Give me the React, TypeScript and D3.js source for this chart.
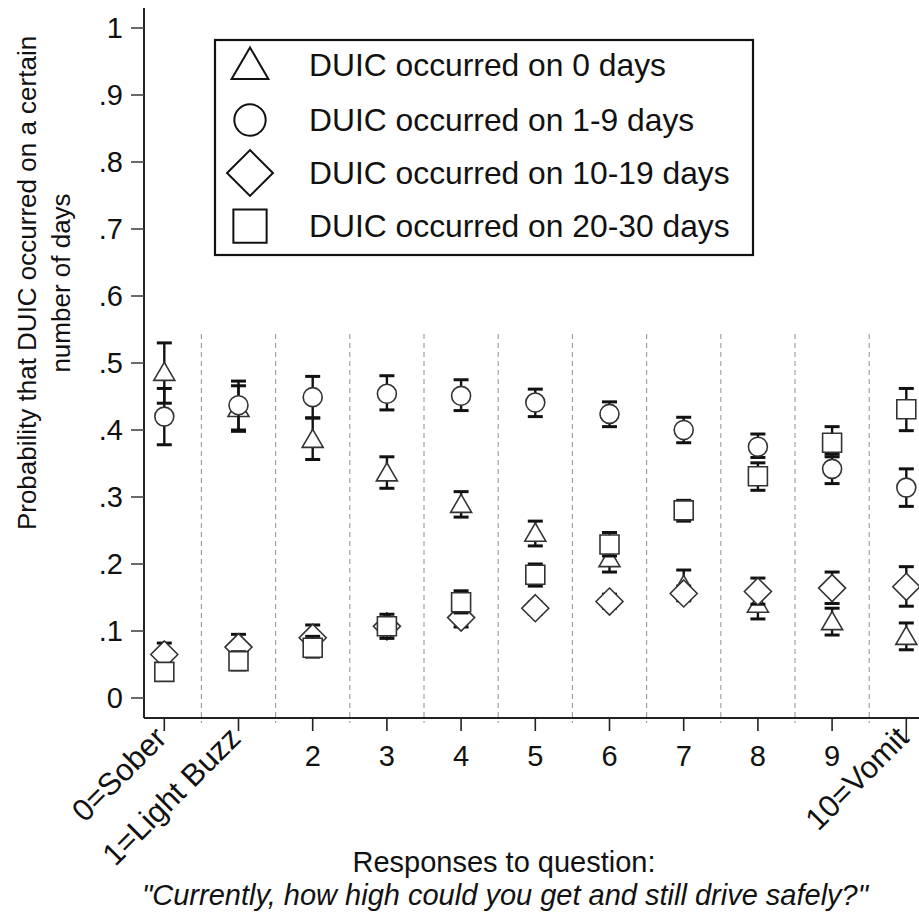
import * as d3 from "d3";

const categories = ["0=Sober", "1=Light Buzz", "2", "3", "4", "5", "6", "7", "8", "9", "10=Vomit"];
const yTicks = [0, 0.1, 0.2, 0.3, 0.4, 0.5, 0.6, 0.7, 0.8, 0.9, 1];
const yTickLabels = ["0", ".1", ".2", ".3", ".4", ".5", ".6", ".7", ".8", ".9", "1"];

// DUIC on 0 days (triangle)
const days0 = [0.486, 0.432, 0.386, 0.336, 0.289, 0.246, 0.208, 0.168, 0.140, 0.114, 0.092];
const days0Lo = [0.440, 0.400, 0.356, 0.313, 0.270, 0.227, 0.188, 0.147, 0.118, 0.094, 0.072];
const days0Hi = [0.530, 0.466, 0.418, 0.360, 0.308, 0.264, 0.228, 0.191, 0.160, 0.134, 0.112];
// 1-9 days (circle)
const days1 = [0.420, 0.437, 0.449, 0.454, 0.451, 0.441, 0.424, 0.400, 0.375, 0.342, 0.314];
const days1Lo = [0.378, 0.398, 0.418, 0.430, 0.429, 0.420, 0.405, 0.381, 0.359, 0.320, 0.286];
const days1Hi = [0.462, 0.473, 0.480, 0.481, 0.475, 0.461, 0.442, 0.419, 0.394, 0.364, 0.342];
// 10-19 days (diamond)
const days10 = [0.065, 0.076, 0.090, 0.107, 0.120, 0.134, 0.144, 0.156, 0.159, 0.164, 0.166];
const days10Lo = [0.050, 0.058, 0.072, 0.094, 0.106, 0.125, 0.134, 0.145, 0.140, 0.141, 0.137];
const days10Hi = [0.082, 0.095, 0.109, 0.120, 0.135, 0.143, 0.155, 0.167, 0.179, 0.188, 0.196];
// 20-30 days (square)
const days20 = [0.039, 0.055, 0.075, 0.107, 0.143, 0.184, 0.229, 0.280, 0.331, 0.381, 0.431];
const days20Lo = [0.028, 0.042, 0.061, 0.089, 0.127, 0.167, 0.212, 0.264, 0.310, 0.360, 0.399];
const days20Hi = [0.050, 0.069, 0.092, 0.125, 0.160, 0.200, 0.247, 0.295, 0.351, 0.405, 0.462];

const legendLabels = [
  "DUIC occurred on 0 days",
  "DUIC occurred on 1-9 days",
  "DUIC occurred on 10-19 days",
  "DUIC occurred on 20-30 days",
];

const series = [
  { shape: "triangle", est: days0, lo: days0Lo, hi: days0Hi },
  { shape: "circle", est: days1, lo: days1Lo, hi: days1Hi },
  { shape: "diamond", est: days10, lo: days10Lo, hi: days10Hi },
  { shape: "square", est: days20, lo: days20Lo, hi: days20Hi },
];

const W = 919;
const H = 917;
const FONT = "'Liberation Sans', Arial, Helvetica, sans-serif";

const x = d3.scaleLinear().domain([0, 10]).range([164.3, 906.3]);
const y = d3.scaleLinear().domain([0, 1]).range([698, 28]);

const axisX = 144;
const axisY = 718;

// marker outline; s = scale factor
function shapePath(shape: string, cx: number, cy: number, s: number) {
  const p = d3.path();
  if (shape === "triangle") {
    const hw = 10.5 * s, top = 10 * s, bot = 8 * s;
    p.moveTo(cx, cy - top);
    p.lineTo(cx + hw, cy + bot);
    p.lineTo(cx - hw, cy + bot);
    p.closePath();
  } else if (shape === "circle") {
    p.arc(cx, cy, 9.5 * s, 0, Math.PI * 2);
  } else if (shape === "diamond") {
    const r = 13.5 * s;
    p.moveTo(cx, cy - r);
    p.lineTo(cx + r, cy);
    p.lineTo(cx, cy + r);
    p.lineTo(cx - r, cy);
    p.closePath();
  } else {
    const h = 9.5 * s;
    p.rect(cx - h, cy - h, 2 * h, 2 * h);
  }
  return p.toString();
}

export default function App() {
  const bounds = d3.range(categories.length - 1).map(i => x(i + 0.5));

  return (
    <svg width={W} height={H} style={{ position: "absolute", left: 0, top: 0, background: "#fff" }}
      fontFamily={FONT}>
      <rect width={W} height={H} fill="#fff" />

      {/* dashed separators */}
      {bounds.map((bx, i) => (
        <line key={"sep" + i} x1={bx} x2={bx} y1={334} y2={723}
          stroke="#9a9a9a" strokeWidth={1.1} strokeDasharray="5,4" />
      ))}

      {/* axes */}
      <line x1={axisX} x2={axisX} y1={8} y2={axisY} stroke="#222" strokeWidth={2} />
      <line x1={axisX} x2={W} y1={axisY} y2={axisY} stroke="#222" strokeWidth={2} />

      {yTicks.map((t, i) => (
        <g key={"yt" + i}>
          <line x1={131} x2={axisX} y1={y(t)} y2={y(t)} stroke="#444" strokeWidth={1.6} />
          <text x={123} y={y(t)} dy="0.36em" textAnchor="end" fontSize={29} fill="#111">
            {yTickLabels[i]}
          </text>
        </g>
      ))}

      {categories.map((c, i) => {
        const tx = x(i);
        const rotated = c.length > 2;
        return (
          <g key={"xt" + i}>
            <line x1={tx} x2={tx} y1={axisY} y2={axisY + (i === 10 ? 25 : 13)} stroke="#222" strokeWidth={1.6} />
            {rotated ? (
              <text transform={`translate(${tx + 4},${axisY + 22}) rotate(-45)`} textAnchor="end"
                fontSize={31} fill="#111">{c}</text>
            ) : (
              <text x={tx} y={766} textAnchor="middle" fontSize={29} fill="#111">{c}</text>
            )}
          </g>
        );
      })}

      {/* y title */}
      <g transform="translate(36,283) rotate(-90)">
        <text textAnchor="middle" fontSize={26} fill="#111">
          Probability that DUIC occurred on a certain
        </text>
      </g>
      <g transform="translate(70,283) rotate(-90)">
        <text textAnchor="middle" fontSize={26} fill="#111">number of days</text>
      </g>

      {/* x title */}
      <text x={504} y={872} textAnchor="middle" fontSize={29} fill="#111">Responses to question:</text>
      <text x={505} y={905} textAnchor="middle" fontSize={29} fontStyle="italic" fill="#111">
        "Currently, how high could you get and still drive safely?"
      </text>

      {/* series */}
      {series.map((s, si) => (
        <g key={"s" + si}>
          {s.est.map((v, i) => {
            const cx = x(i);
            return (
              <g key={i}>
                <line x1={cx} x2={cx} y1={y(s.lo[i])} y2={y(s.hi[i])} stroke="#111" strokeWidth={2.4} />
                <line x1={cx - 7.5} x2={cx + 7.5} y1={y(s.lo[i])} y2={y(s.lo[i])} stroke="#111" strokeWidth={3} />
                <line x1={cx - 7.5} x2={cx + 7.5} y1={y(s.hi[i])} y2={y(s.hi[i])} stroke="#111" strokeWidth={3} />
                <path d={shapePath(s.shape, cx, y(v), 1)} fill="#fff" stroke="#333" strokeWidth={1.6} />
              </g>
            );
          })}
        </g>
      ))}

      {/* legend */}
      <rect x={215} y={40} width={538} height={215} fill="#fff" stroke="#111" strokeWidth={2.2} />
      {legendLabels.map((l, i) => {
        const cy = [65, 120, 173, 226][i];
        const sc = [1.75, 1.65, 1.7, 1.75][i];
        return (
          <g key={"lg" + i}>
            <path d={shapePath(series[i].shape, 250, cy, sc)} fill="#fff" stroke="#111" strokeWidth={2} />
            <text x={309} y={cy} dy="0.36em" fontSize={31.8} fill="#111">{l}</text>
          </g>
        );
      })}
    </svg>
  );
}
